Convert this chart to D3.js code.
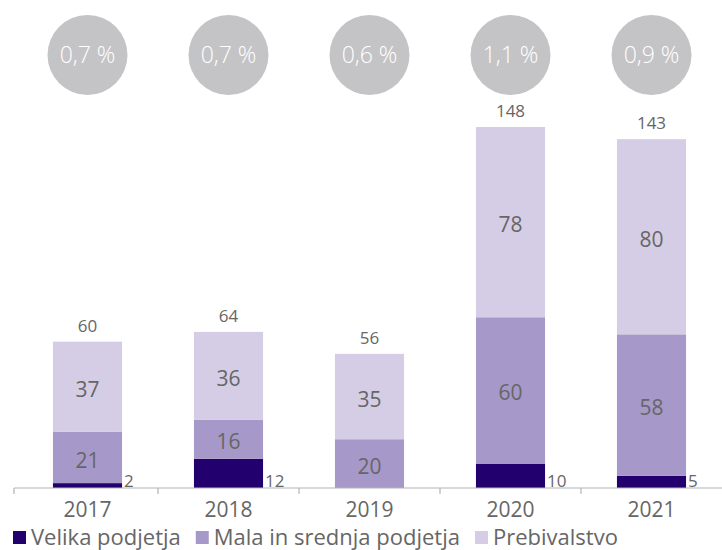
<!DOCTYPE html>
<html>
<head>
<meta charset="utf-8">
<script src="https://cdn.jsdelivr.net/npm/d3@7"></script>
<style>
  html, body { margin: 0; padding: 0; background: #fff; }
  svg { display: block; font-family: "Open Sans", Lato, sans-serif; }
</style>
</head>
<body>
<svg id="chart" width="722" height="550"></svg>
<script>
const years = ["2017", "2018", "2019", "2020", "2021"];
const velika = [2, 12, 0, 10, 5];
const mala = [21, 16, 20, 60, 58];
const prebivalstvo = [37, 36, 35, 78, 80];
const totals = [60, 64, 56, 148, 143];
const shares = ["0,7 %", "0,7 %", "0,6 %", "1,1 %", "0,9 %"];
const seriesNames = ["Velika podjetja", "Mala in srednja podjetja", "Prebivalstvo"];
const colors = ["#22006e", "#a698c9", "#d5cde5"];

const svg = d3.select("#chart");
const textColor = "#666666";

const x = d3.scaleBand().domain(years).range([17, 722]).paddingInner(0.51).paddingOuter(0.255);
const y = d3.scaleLinear().domain([0, d3.max(totals)]).range([488, 127]);

const rows = years.map((yr, i) => ({ year: yr, velika: velika[i], mala: mala[i], prebivalstvo: prebivalstvo[i] }));
const keys = ["velika", "mala", "prebivalstvo"];
const stacked = d3.stack().keys(keys)(rows);

// bars
const layers = svg.append("g").selectAll("g").data(stacked).join("g")
  .attr("fill", (d, i) => colors[i]);
layers.selectAll("rect").data(d => d).join("rect")
  .attr("x", d => x(d.data.year))
  .attr("width", x.bandwidth())
  .attr("y", d => y(d[1]))
  .attr("height", d => Math.max(0, y(d[0]) - y(d[1])));

// segment labels (mala & prebivalstvo inside)
[1, 2].forEach(k => {
  svg.append("g").selectAll("text").data(stacked[k]).join("text")
    .attr("x", d => x(d.data.year) + x.bandwidth() / 2)
    .attr("y", d => (y(d[0]) + y(d[1])) / 2 + 10)
    .attr("text-anchor", "middle")
    .attr("font-size", 21)
    .attr("fill", textColor)
    .text(d => d[1] - d[0]);
});

// velika labels (outside, right)
svg.append("g").selectAll("text").data(stacked[0].filter(d => d[1] - d[0] > 0)).join("text")
  .attr("x", d => x(d.data.year) + x.bandwidth() + 2)
  .attr("y", y(0) - 1)
  .attr("font-size", 17)
  .attr("fill", textColor)
  .text(d => d[1] - d[0]);

// totals
svg.append("g").selectAll("text").data(years).join("text")
  .attr("x", d => x(d) + x.bandwidth() / 2)
  .attr("y", (d, i) => y(d3.sum([velika[i], mala[i], prebivalstvo[i]])) - 10)
  .attr("text-anchor", "middle")
  .attr("font-size", 17)
  .attr("fill", textColor)
  .text((d, i) => totals[i]);

// share circles
const circ = svg.append("g").selectAll("g").data(years).join("g")
  .attr("transform", d => `translate(${x(d) + x.bandwidth() / 2},55)`);
circ.append("circle").attr("r", 40).attr("fill", "#c4c4c6");
circ.append("text")
  .attr("text-anchor", "middle")
  .attr("y", 8)
  .attr("font-size", 23)
  .attr("font-weight", 300)
  .attr("fill", "#ffffff")
  .text((d, i) => shares[i]);

// x axis
const axisG = svg.append("g").attr("transform", `translate(0,${y(0)})`);
axisG.append("line").attr("x1", 14).attr("x2", 722).attr("y1", 0).attr("y2", 0)
  .attr("stroke", "#b3b3b3").attr("stroke-width", 1.2);
const half = x.step() * x.paddingInner() / 2;
axisG.selectAll("line.tick").data(years).join("line").attr("class", "tick")
  .attr("x1", (d, i) => i === 0 ? 14 : x(d) - half)
  .attr("x2", (d, i) => i === 0 ? 14 : x(d) - half)
  .attr("y1", 0).attr("y2", 6)
  .attr("stroke", "#b3b3b3").attr("stroke-width", 1.2);
const ax = d3.axisBottom(x).tickSize(0).tickPadding(0);
const axisLabels = svg.append("g").attr("transform", `translate(0,${y(0)})`).call(ax);
axisLabels.select(".domain").remove();
axisLabels.selectAll("text")
  .attr("y", 29).attr("dy", null)
  .attr("font-size", 21)
  .attr("font-family", "'Open Sans', Lato, sans-serif")
  .attr("fill", textColor);

// legend
const legend = svg.append("g").attr("transform", "translate(13,531)");
let lx = 0;
seriesNames.forEach((name, i) => {
  const g = legend.append("g").attr("transform", `translate(${lx},0)`);
  g.append("rect").attr("width", 13).attr("height", 13).attr("fill", colors[i]);
  const t = g.append("text").attr("x", 18).attr("y", 13.5)
    .attr("font-size", 22).attr("fill", textColor).text(name);
  lx += 18 + t.node().getComputedTextLength() + 15;
});
</script>
</body>
</html>
